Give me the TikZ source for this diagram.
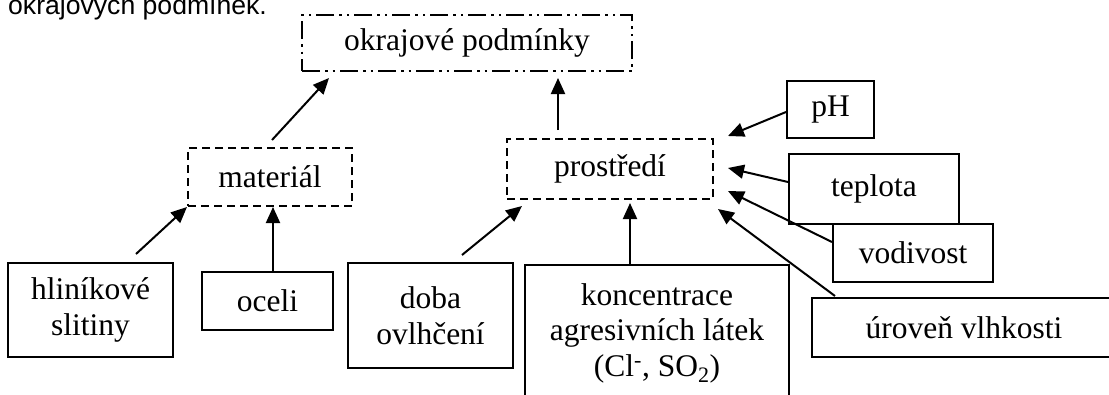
\documentclass[tikz,border=0pt]{standalone}
\usepackage{fontspec}
\setmainfont{Liberation Serif}
\newfontfamily\arialfont{Liberation Sans}
\usetikzlibrary{arrows.meta,calc}
\begin{document}
\begin{tikzpicture}[x=1pt,y=-1pt,
  box/.style={draw,line width=2pt,inner sep=0pt,align=center,font=\fontsize{31.5}{35.5}\selectfont},
  dashbox/.style={box,dash pattern=on 8pt off 5pt},
  dotbox/.style={box,dash pattern=on 18pt off 5pt on 2.5pt off 5pt on 2.5pt off 5pt},
  arr/.style={line width=2pt,-{Triangle[length=16pt,width=14pt]}}]
\useasboundingbox (0,0) rectangle (1109,394);
\clip (0,0) rectangle (1109,394);
\fill[white] (0,0) rectangle (1109,394);

\node[anchor=base west,inner sep=0pt,font=\arialfont\fontsize{26.6}{30}\selectfont] (top) at (8,14) {okrajových podmínek.};

\node[dotbox,minimum width=330pt,minimum height=56pt] (okraj) at (467,43) {okrajové podmínky};
\node[dashbox,minimum width=164pt,minimum height=58pt] (mat) at (270,177) {materiál};
\node[dashbox,minimum width=206pt,minimum height=60pt] (prost) at (610,169) {prostředí};

\node[box,minimum width=87pt,minimum height=57pt] (ph) at (830.5,109.5) {pH};
\node[box,minimum width=170pt,minimum height=70pt] (tepl) at (874,189) {teplota};
\node[box,minimum width=160pt,minimum height=58pt] (vod) at (913,253) {vodivost};
\node[box,minimum width=304pt,minimum height=59pt] (uro) at (964,327.5) {úroveň vlhkosti};
\node[box,minimum width=165pt,minimum height=94pt] (hlin) at (90.5,310) {hliníkové\\slitiny};
\node[box,minimum width=131pt,minimum height=58pt] (oceli) at (267.5,301) {oceli};
\node[box,minimum width=165pt,minimum height=105pt] (doba) at (430.5,315.5) {doba\\ovlhčení};
\node[box,minimum width=264pt,minimum height=136pt] (konc) at (657,333) {koncentrace\\agresivních látek\\(Cl\textsuperscript{-}, SO\textsubscript{2})};

\draw[arr] ([shift={(2,-7)}]mat.north) -- ([shift={(28,6)}]okraj.south west);
\draw[arr] ([shift={(-52,-8)}]prost.north) -- ([shift={(91,6)}]okraj.south);
\draw[arr] ([shift={(45.5,-8)}]hlin.north) -- (mat.south west);
\draw[arr] ([shift={(5.5,0)}]oceli.north) -- ([shift={(3,0)}]mat.south);
\draw[arr] ([shift={(31.5,-7)}]doba.north) -- ([shift={(16,6)}]prost.south west);
\draw[arr] ([shift={(-27,0)}]konc.north) -- ([shift={(20,3)}]prost.south);
\draw[arr] ([shift={(0,2.5)}]ph.west) -- ([shift={(14,-2)}]prost.north east);
\draw[arr] ([shift={(0,-7)}]tepl.west) -- ([shift={(14,-1)}]prost.east);
\draw[arr] ([shift={(0,-11)}]vod.west) -- ([shift={(14,-9)}]prost.south east);
\draw[arr] ([shift={(24,-1)}]uro.north west) -- ([shift={(4,9)}]prost.south east);
\end{tikzpicture}
\end{document}
